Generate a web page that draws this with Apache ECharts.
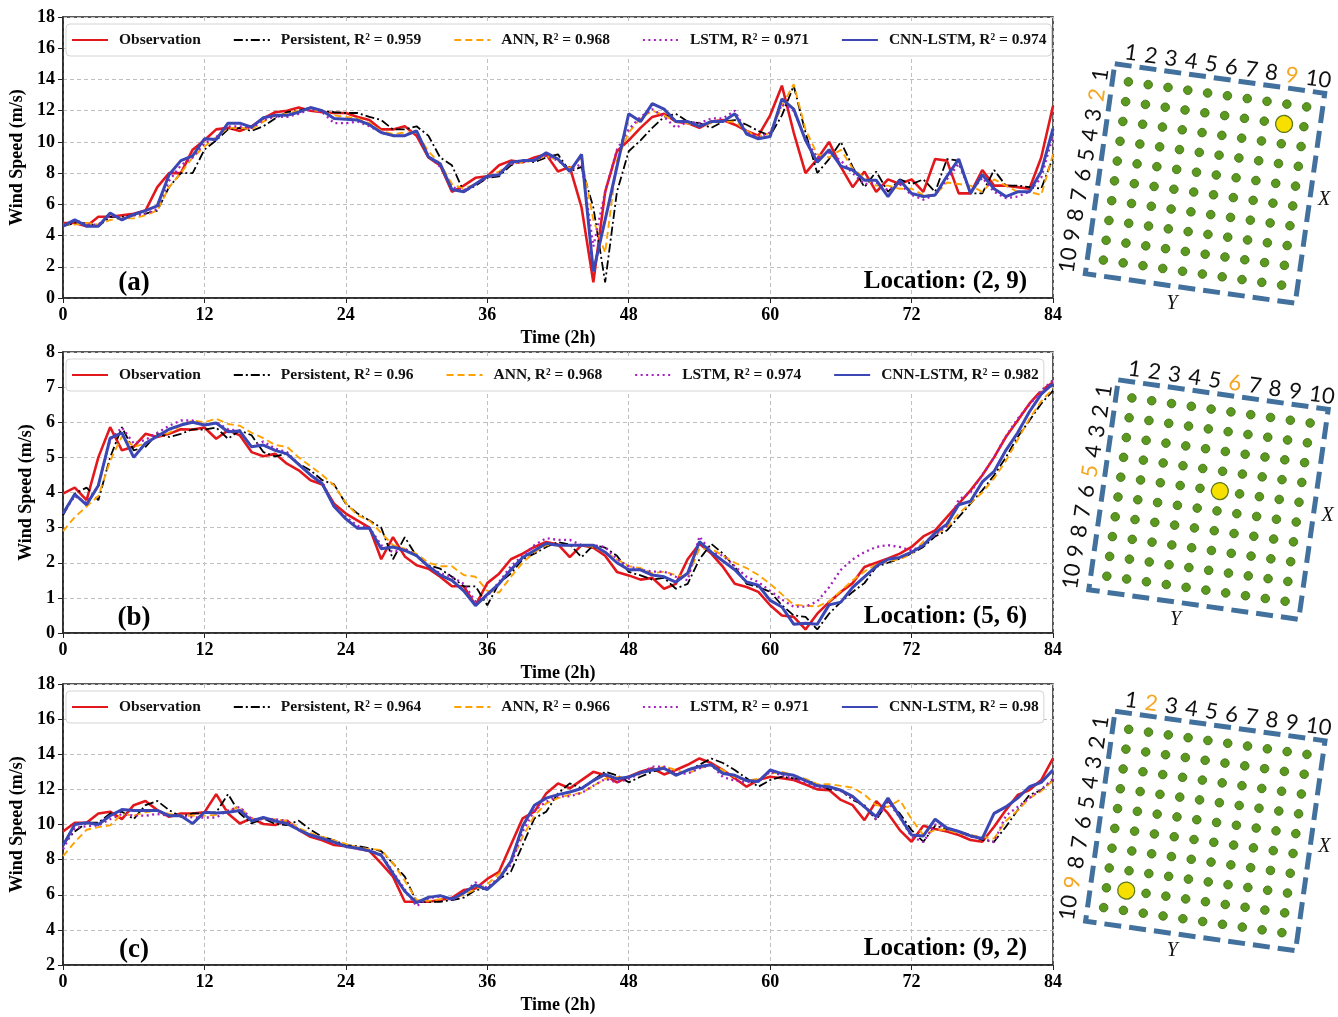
<!DOCTYPE html>
<html>
<head>
<meta charset="utf-8">
<script src="https://cdn.jsdelivr.net/npm/echarts@6/dist/echarts.min.js"></script>
<style>html,body{margin:0;padding:0;background:#fff}#main{width:1338px;height:1017px}</style>
</head>
<body>
<div id="main"></div>
<script>
// (a) Location (2, 9)
var obsA = [4.8, 4.8, 4.6, 5.2, 5.2, 5.3, 5.4, 5.6, 7.1, 8.0, 8.0, 9.5,
  10.1, 10.8, 10.9, 10.7, 11.0, 11.5, 11.9, 12.0, 12.2, 12.0, 11.9, 11.85,
  11.85, 11.6, 11.4, 10.8, 10.8, 11.0, 10.4, 9.0, 8.5, 6.8, 7.2, 7.7,
  7.8, 8.5, 8.8, 8.7, 9.0, 9.2, 8.1, 8.4, 5.8, 1.0, 6.8, 9.4,
  10.1, 10.9, 11.6, 11.8, 11.3, 11.2, 10.9, 11.3, 11.4, 11.1, 10.7, 10.4,
  11.7, 13.6, 10.6, 8.0, 8.9, 10.0, 8.4, 7.1, 8.1, 6.8, 7.6, 7.3,
  7.6, 6.8, 8.9, 8.8, 6.7, 6.7, 8.2, 7.2, 7.2, 7.1, 7.0, 9.0,
  12.3];
var persA = [4.6, 4.8, 4.8, 4.6, 5.2, 5.2, 5.3, 5.4, 5.6, 7.1, 8.0, 8.0,
  9.5, 10.1, 10.8, 10.9, 10.7, 11.0, 11.5, 11.9, 12.0, 12.2, 12.0, 11.9,
  11.85, 11.85, 11.6, 11.4, 10.8, 10.8, 11.0, 10.4, 9.0, 8.5, 6.8, 7.2,
  7.7, 7.8, 8.5, 8.8, 8.7, 9.0, 9.2, 8.1, 8.4, 5.8, 1.0, 6.8,
  9.4, 10.1, 10.9, 11.6, 11.8, 11.3, 11.2, 10.9, 11.3, 11.4, 11.1, 10.7,
  10.4, 11.7, 13.6, 10.6, 8.0, 8.9, 10.0, 8.4, 7.1, 8.1, 6.8, 7.6,
  7.3, 7.6, 6.8, 8.9, 8.8, 6.7, 6.7, 8.2, 7.2, 7.2, 7.1, 7.0,
  9.0];
var annA = [4.7, 4.7, 4.8, 4.7, 5.0, 5.1, 5.1, 5.3, 5.6, 7.1, 8.0, 9.0,
  9.7, 10.3, 10.9, 10.9, 10.8, 11.3, 11.7, 11.8, 12.0, 12.1, 11.9, 11.7,
  11.6, 11.5, 11.2, 10.7, 10.5, 10.6, 10.6, 9.4, 8.6, 7.3, 7.0, 7.3,
  7.8, 8.1, 8.6, 8.7, 8.8, 9.1, 8.8, 8.3, 9.0, 5.0, 2.9, 8.8,
  10.6, 11.5, 12.0, 11.7, 11.3, 11.2, 11.0, 11.2, 11.3, 11.3, 10.7, 10.3,
  10.6, 12.3, 13.7, 10.8, 9.2, 9.0, 9.5, 8.3, 7.7, 7.2, 7.2, 7.0,
  7.0, 6.6, 6.6, 7.4, 7.3, 7.2, 6.8, 7.6, 7.2, 6.8, 6.8, 6.6,
  9.2];
var lstmA = [4.6, 5.0, 4.7, 4.7, 5.3, 5.1, 5.3, 5.4, 5.7, 7.5, 8.5, 9.0,
  9.9, 10.3, 11.0, 11.0, 10.9, 11.4, 11.6, 11.6, 11.8, 12.1, 11.9, 11.2,
  11.2, 11.3, 11.0, 10.6, 10.4, 10.4, 10.7, 9.1, 8.4, 7.1, 6.9, 7.3,
  7.7, 8.0, 8.6, 8.7, 8.9, 9.1, 8.8, 8.2, 8.6, 3.3, 6.8, 9.5,
  10.8, 11.6, 12.1, 11.6, 10.9, 11.3, 11.2, 11.5, 11.5, 12.0, 10.6, 10.3,
  10.6, 12.4, 12.0, 10.2, 9.0, 9.3, 8.8, 8.0, 7.3, 7.4, 6.9, 7.3,
  6.6, 6.3, 6.6, 7.6, 8.6, 6.8, 7.7, 6.8, 6.4, 6.5, 6.8, 7.7,
  10.4];
var cnnA = [4.6, 5.0, 4.6, 4.6, 5.45, 5.0, 5.35, 5.6, 5.9, 7.9, 8.8, 9.1,
  10.2, 10.15, 11.2, 11.2, 10.95, 11.55, 11.7, 11.7, 11.9, 12.2, 12.0, 11.5,
  11.45, 11.4, 11.1, 10.6, 10.4, 10.4, 10.7, 9.05, 8.6, 6.95, 6.8, 7.3,
  7.8, 7.9, 8.7, 8.8, 8.8, 9.3, 8.9, 8.1, 9.2, 1.7, 5.0, 8.4,
  11.8, 11.3, 12.45, 12.1, 11.3, 11.3, 11.0, 11.3, 11.3, 11.8, 10.5, 10.2,
  10.35, 12.75, 12.1, 10.1, 8.7, 9.5, 8.45, 8.2, 7.55, 7.55, 6.5, 7.55,
  6.7, 6.5, 6.6, 7.8, 8.9, 6.7, 7.9, 7.0, 6.5, 6.8, 6.8, 8.1,
  10.85];

// (b) Location (5, 6)
var obsB = [3.97, 4.14, 3.78, 5.0, 5.86, 5.2, 5.3, 5.67, 5.58, 5.67, 5.8, 5.79,
  5.85, 5.53, 5.77, 5.63, 5.15, 5.03, 5.1, 4.82, 4.63, 4.35, 4.23, 3.68,
  3.4, 3.2, 3.0, 2.1, 2.73, 2.18, 1.93, 1.83, 1.6, 1.33, 1.33, 0.79,
  1.42, 1.69, 2.1, 2.26, 2.45, 2.59, 2.52, 2.16, 2.5, 2.43, 2.2, 1.74,
  1.64, 1.52, 1.57, 1.26, 1.4, 2.1, 2.54, 2.26, 1.88, 1.4, 1.31, 1.17,
  0.79, 0.5, 0.46, 0.1, 0.55, 0.88, 1.17, 1.42, 1.88, 2.0, 2.12, 2.26,
  2.45, 2.75, 2.92, 3.3, 3.68, 4.06, 4.49, 5.0, 5.58, 6.05, 6.53, 6.9,
  7.14];
var persB = [3.35, 3.97, 4.14, 3.78, 5.0, 5.86, 5.2, 5.3, 5.67, 5.58, 5.67, 5.8,
  5.79, 5.85, 5.53, 5.77, 5.63, 5.15, 5.03, 5.1, 4.82, 4.63, 4.35, 4.23,
  3.68, 3.4, 3.2, 3.0, 2.1, 2.73, 2.18, 1.93, 1.83, 1.6, 1.33, 1.33,
  0.79, 1.42, 1.69, 2.1, 2.26, 2.45, 2.59, 2.52, 2.16, 2.5, 2.43, 2.2,
  1.74, 1.64, 1.52, 1.57, 1.26, 1.4, 2.1, 2.54, 2.26, 1.88, 1.4, 1.31,
  1.17, 0.79, 0.5, 0.46, 0.1, 0.55, 0.88, 1.17, 1.42, 1.88, 2.0, 2.12,
  2.26, 2.45, 2.75, 2.92, 3.3, 3.68, 4.06, 4.49, 5.0, 5.58, 6.05, 6.53,
  6.9];
var annB = [2.9, 3.3, 3.6, 3.9, 4.9, 5.6, 5.3, 5.4, 5.6, 5.7, 5.9, 6.05,
  6.0, 6.1, 5.95, 5.9, 5.7, 5.55, 5.35, 5.3, 5.0, 4.75, 4.5, 4.2,
  3.7, 3.35, 3.2, 2.85, 2.5, 2.4, 2.25, 2.0, 1.9, 1.9, 1.65, 1.6,
  1.2, 1.15, 1.6, 2.0, 2.3, 2.5, 2.5, 2.5, 2.5, 2.45, 2.3, 2.1,
  1.9, 1.85, 1.7, 1.75, 1.65, 1.6, 2.4, 2.4, 2.2, 2.0, 1.85, 1.65,
  1.4, 1.1, 0.8, 0.78, 0.75, 0.9, 1.2, 1.5, 1.75, 1.95, 2.05, 2.1,
  2.25, 2.6, 2.8, 3.0, 3.4, 3.7, 4.0, 4.4, 4.9, 5.5, 6.1, 6.6,
  6.95];
var lstmB = [3.4, 3.9, 3.7, 4.2, 5.5, 5.85, 5.4, 5.5, 5.7, 5.9, 6.05, 6.05,
  5.9, 6.0, 5.8, 5.75, 5.3, 5.45, 5.25, 5.15, 4.8, 4.5, 4.3, 3.6,
  3.3, 3.05, 3.0, 2.5, 2.3, 2.4, 2.2, 1.9, 1.7, 1.6, 1.4, 0.9,
  1.05, 1.45, 1.9, 2.2, 2.5, 2.7, 2.65, 2.65, 2.5, 2.5, 2.45, 2.1,
  1.9, 1.8, 1.75, 1.75, 1.6, 1.5, 2.75, 2.3, 2.2, 1.9, 1.6, 1.45,
  1.2, 0.95, 0.75, 0.75, 0.9, 1.3, 1.8, 2.1, 2.3, 2.45, 2.5, 2.45,
  2.35, 2.5, 2.8, 3.05, 3.8, 4.0, 4.5, 5.0, 5.6, 6.1, 6.5, 6.9,
  7.2];
var cnnB = [3.4, 3.95, 3.65, 4.2, 5.55, 5.7, 5.0, 5.4, 5.6, 5.8, 5.92, 6.0,
  5.92, 5.98, 5.73, 5.75, 5.3, 5.35, 5.2, 5.1, 4.8, 4.5, 4.25, 3.6,
  3.25, 2.98, 2.98, 2.4, 2.45, 2.35, 2.2, 1.9, 1.65, 1.5, 1.2, 0.78,
  1.1, 1.4, 1.8, 2.15, 2.35, 2.55, 2.5, 2.5, 2.5, 2.5, 2.3, 2.0,
  1.8, 1.8, 1.65, 1.6, 1.45, 1.7, 2.6, 2.3, 2.05, 1.8, 1.45, 1.36,
  0.93, 0.74, 0.25, 0.28, 0.25, 0.8, 0.88, 1.3, 1.6, 1.9, 2.1, 2.15,
  2.3, 2.5, 2.85, 3.1, 3.65, 3.75, 4.3, 4.6, 5.2, 5.7, 6.3, 6.8,
  7.1];

// (c) Location (9, 2)
var obsC = [9.6, 10.1, 10.1, 10.63, 10.73, 10.31, 11.1, 11.34, 10.82, 10.44, 10.63, 10.63,
  10.69, 11.73, 10.63, 10.06, 10.35, 10.03, 9.97, 10.22, 9.7, 9.3, 9.1, 8.83,
  8.77, 8.64, 8.49, 7.79, 7.03, 5.6, 5.6, 5.6, 5.7, 5.83, 6.27, 6.36,
  6.9, 7.31, 8.83, 10.35, 10.73, 11.77, 12.34, 12.06, 12.53, 13.0, 12.8, 12.4,
  12.72, 13.0, 13.2, 12.85, 13.1, 13.4, 13.76, 13.5, 13.1, 12.63, 12.15, 12.53,
  12.72, 12.63, 12.53, 12.28, 12.0, 11.96, 11.4, 11.1, 10.25, 11.33, 10.63, 9.68,
  9.02, 9.93, 9.74, 9.6, 9.4, 9.12, 9.02, 9.87, 10.82, 11.68, 11.96, 12.53,
  13.76];
var persC = [8.9, 9.6, 10.1, 10.1, 10.63, 10.73, 10.31, 11.1, 11.34, 10.82, 10.44, 10.63,
  10.63, 10.69, 11.73, 10.63, 10.06, 10.35, 10.03, 9.97, 10.22, 9.7, 9.3, 9.1,
  8.83, 8.77, 8.64, 8.49, 7.79, 7.03, 5.6, 5.6, 5.6, 5.7, 5.83, 6.27,
  6.36, 6.9, 7.31, 8.83, 10.35, 10.73, 11.77, 12.34, 12.06, 12.53, 13.0, 12.8,
  12.4, 12.72, 13.0, 13.2, 12.85, 13.1, 13.4, 13.76, 13.5, 13.1, 12.63, 12.15,
  12.53, 12.72, 12.63, 12.53, 12.28, 12.0, 11.96, 11.4, 11.1, 10.25, 11.33, 10.63,
  9.68, 9.02, 9.93, 9.74, 9.6, 9.4, 9.12, 9.02, 9.87, 10.82, 11.68, 11.96,
  12.53];
var annC = [8.2, 9.0, 9.7, 9.85, 9.95, 10.6, 10.5, 10.7, 10.8, 10.6, 10.5, 10.5,
  10.5, 10.55, 10.8, 11.0, 10.3, 10.35, 10.3, 10.2, 9.8, 9.5, 9.3, 9.1,
  8.9, 8.7, 8.6, 8.55, 7.8, 6.8, 5.7, 5.65, 5.75, 5.75, 6.0, 6.3,
  6.6, 7.2, 7.8, 9.3, 10.5, 11.2, 11.5, 11.7, 11.8, 12.2, 12.6, 12.7,
  12.7, 12.9, 13.1, 13.3, 13.1, 12.9, 13.2, 13.4, 13.1, 12.7, 12.5, 12.6,
  12.9, 13.0, 12.8, 12.6, 12.3, 12.3, 12.2, 12.1, 11.7, 11.1, 11.0, 11.4,
  10.3, 9.4, 9.7, 9.7, 9.5, 9.4, 9.3, 9.2, 10.2, 10.8, 11.5, 11.9,
  12.5];
var lstmC = [8.6, 9.8, 9.9, 9.95, 10.3, 10.6, 10.5, 10.5, 10.6, 10.5, 10.5, 10.4,
  10.4, 10.4, 10.8, 11.0, 10.3, 10.3, 10.3, 10.2, 9.7, 9.4, 9.2, 8.95,
  8.75, 8.6, 8.5, 8.3, 7.3, 6.3, 5.35, 5.8, 5.9, 5.7, 6.1, 6.7,
  6.4, 7.0, 7.7, 9.6, 10.8, 11.3, 11.6, 11.6, 11.8, 12.2, 12.6, 12.4,
  12.6, 12.9, 13.3, 13.3, 12.9, 12.9, 13.2, 13.4, 12.7, 12.5, 12.4, 12.5,
  13.0, 12.8, 12.6, 12.4, 12.1, 12.1, 11.9, 11.5, 11.0, 10.3, 11.3, 10.4,
  9.3, 9.0, 10.0, 9.8, 9.6, 9.3, 9.2, 9.0, 10.5, 11.0, 11.5, 12.0,
  12.6];
var cnnC = [8.8, 10.0, 10.1, 10.0, 10.5, 10.85, 10.8, 10.8, 10.8, 10.5, 10.5, 10.05,
  10.7, 10.65, 10.7, 10.8, 10.2, 10.4, 10.2, 10.05, 9.7, 9.4, 9.2, 9.0,
  8.75, 8.65, 8.5, 8.25, 7.2, 6.2, 5.55, 5.85, 5.95, 5.75, 6.1, 6.55,
  6.3, 6.9, 7.9, 9.9, 11.1, 11.5, 11.7, 11.85, 12.05, 12.5, 12.85, 12.6,
  12.7, 12.95, 13.1, 13.2, 12.8, 13.1, 13.3, 13.4, 12.9, 12.8, 12.5, 12.45,
  13.1, 12.9, 12.8, 12.5, 12.2, 12.15, 11.95, 11.6, 11.0, 10.45, 11.5, 10.45,
  9.4, 9.35, 10.3, 9.8, 9.6, 9.35, 9.2, 10.63, 11.0, 11.5, 12.15, 12.4,
  13.1];

var modelNames = ['Observation', 'Persistent', 'ANN', 'LSTM', 'CNN-LSTM'];
var r2A = [0.959, 0.968, 0.971, 0.974];
var r2B = [0.96, 0.968, 0.974, 0.982];
var r2C = [0.964, 0.966, 0.971, 0.98];
var locA = [2, 9];
var locB = [5, 6];
var locC = [9, 2];
var panelTags = ['(a)', '(b)', '(c)'];
var xTicks = [0, 84, 12];

var SERIF = '"Liberation Serif", "Times New Roman", serif';
var NUMFONT = '22px Lato, "Noto Sans", sans-serif';

var lineStyles = [
  {color: '#e3181d', width: 2.6, type: 'solid'},
  {color: '#000000', width: 1.8, type: [9, 3, 2, 3]},
  {color: '#ffa200', width: 1.9, type: [7, 4]},
  {color: '#a61fc0', width: 2.3, type: [2, 3.5]},
  {color: '#3a47b5', width: 3, type: 'solid'}
];

var panels = [
  {series: [obsA, persA, annA, lstmA, cnnA], r2: r2A, loc: locA, yMin: 0, yMax: 18, yStep: 2, top: 17, yNameGap: 37, center: [1205, 183.5]},
  {series: [obsB, persB, annB, lstmB, cnnB], r2: r2B, loc: locB, yMin: 0, yMax: 8, yStep: 1, top: 352, yNameGap: 27, center: [1208.5, 499.6]},
  {series: [obsC, persC, annC, lstmC, cnnC], r2: r2C, loc: locC, yMin: 2, yMax: 18, yStep: 2, top: 684, yNameGap: 37, center: [1205.3, 831]}
];

var myChart = echarts.init(document.getElementById('main'));

var grids = [], xAxes = [], yAxes = [], legends = [], series = [], graphics = [];

function seriesName(i, r2) {
  return i === 0 ? modelNames[0] : modelNames[i] + ', R\u00b2 = ' + r2[i - 1];
}

function txt(text, fill, font, align) {
  return {text: text, fill: fill, font: font, textAlign: align, textVerticalAlign: 'middle', align: align, verticalAlign: 'middle'};
}

// 右侧网格示意图
function gridDiagram(cx, cy, loc) {
  var ang = 8 * Math.PI / 180;
  var kids = [];
  kids.push({type: 'rect', shape: {x: -106, y: -106, width: 212, height: 212},
    style: {fill: 'transparent', stroke: '#41719c', lineWidth: 5, lineDash: [17, 8]}});
  for (var r = 0; r < 10; r++) {
    for (var c = 0; c < 10; c++) {
      var hit = (r + 1 === loc[0] && c + 1 === loc[1]);
      kids.push({type: 'circle', shape: {cx: (c - 4.5) * 20, cy: (r - 4.5) * 20, r: hit ? 8.5 : 4.3},
        style: {fill: hit ? '#f7e000' : '#5b9a1f', stroke: hit ? '#5d7a16' : '#3f6d13', lineWidth: hit ? 1.3 : 0.8}, z: hit ? 3 : 2});
    }
  }
  for (var i = 0; i < 10; i++) {
    var u = i < 9 ? -91.5 + 20.3 * i : 97.8;
    kids.push({type: 'text', x: u, y: -119,
      style: txt(String(i + 1), (i + 1 === loc[1]) ? '#f5a623' : '#111', NUMFONT, 'center')});
    var v = i < 9 ? -92.9 + 20.3 * i : 95;
    kids.push({type: 'text', x: -118.5 - 0.7 * i, y: v, rotation: Math.PI / 2,
      style: txt(String(i + 1), (i + 1 === loc[0]) ? '#f5a623' : '#111', NUMFONT, 'center')});
  }
  return [
    {type: 'group', x: cx, y: cy, rotation: -ang, children: kids},
    {type: 'text', x: cx + 119, y: cy + 16, style: txt('X', '#111', 'italic 20px ' + SERIF, 'center')},
    {type: 'text', x: cx - 33, y: cy + 120, style: txt('Y', '#111', 'italic 20px ' + SERIF, 'center')}
  ];
}

//刻度文字
var tickLabel = {color: '#000', fontFamily: SERIF, fontWeight: 'bold', fontSize: 18};

panels.forEach(function(p, k) {
  grids.push({left: 63, top: p.top, width: 990, height: 281, show: true, borderColor: '#222', borderWidth: 1.5, backgroundColor: 'transparent'});
  xAxes.push({
    type: 'value', gridIndex: k, min: xTicks[0], max: xTicks[1], interval: xTicks[2],
    name: 'Time (2h)', nameLocation: 'middle', nameGap: 31,
    nameTextStyle: {color: '#000', fontFamily: SERIF, fontWeight: 'bold', fontSize: 18},
    axisLine: {lineStyle: {color: '#222', width: 1.5}},
    axisTick: {show: true, length: 5, lineStyle: {color: '#222'}},
    axisLabel: Object.assign({margin: 8}, tickLabel),
    splitLine: {show: true, lineStyle: {color: '#c0c0c0', type: [4, 3], width: 1}}
  });
  yAxes.push({
    type: 'value', gridIndex: k, min: p.yMin, max: p.yMax, interval: p.yStep,
    name: 'Wind Speed (m/s)', nameLocation: 'middle', nameGap: p.yNameGap, nameRotate: 90,
    nameTextStyle: {color: '#000', fontFamily: SERIF, fontWeight: 'bold', fontSize: 18},
    axisLine: {show: true, lineStyle: {color: '#222', width: 1.5}},
    axisTick: {show: true, length: 5, lineStyle: {color: '#222'}},
    axisLabel: Object.assign({margin: 8}, tickLabel),
    splitLine: {show: true, lineStyle: {color: '#c0c0c0', type: [4, 3], width: 1}}
  });
  var names = [];
  p.series.forEach(function(arr, i) {
    var nm = seriesName(i, p.r2);
    names.push(nm);
    series.push({
      name: nm, type: 'line', xAxisIndex: k, yAxisIndex: k,
      showSymbol: false, symbol: 'none', animation: false, z: 2 + i,
      lineStyle: lineStyles[i], itemStyle: {color: lineStyles[i].color},
      data: arr.map(function(v, t) { return [t, v]; })
    });
  });
  legends.push({
    data: names, left: 66, top: p.top + 7, orient: 'horizontal',
    itemWidth: 36, itemHeight: 12, itemGap: 32,
    padding: [8, 5], backgroundColor: '#fff', borderColor: '#d4d4d4', borderWidth: 1, borderRadius: 4,
    itemStyle: {opacity: 0},
    textStyle: {color: '#111', fontFamily: SERIF, fontWeight: 'bold', fontSize: 15.5, padding: [0, 0, 0, 6]},
    selectedMode: false
  });
  // 子图标签
  graphics.push({type: 'text', x: 134, y: p.top + 266, z: 100, style: txt(panelTags[k], '#000', 'bold 27px ' + SERIF, 'center')});
  graphics.push({type: 'text', x: 1027, y: p.top + 265, z: 100,
    style: txt('Location: (' + p.loc[0] + ', ' + p.loc[1] + ')', '#000', 'bold 25px ' + SERIF, 'right')});
  graphics = graphics.concat(gridDiagram(p.center[0], p.center[1], p.loc));
});

var option = {
  backgroundColor: '#fff',
  animation: false,
  grid: grids,
  xAxis: xAxes,
  yAxis: yAxes,
  legend: legends,
  series: series,
  graphic: graphics
};
myChart.setOption(option);
</script>
</body>
</html>
